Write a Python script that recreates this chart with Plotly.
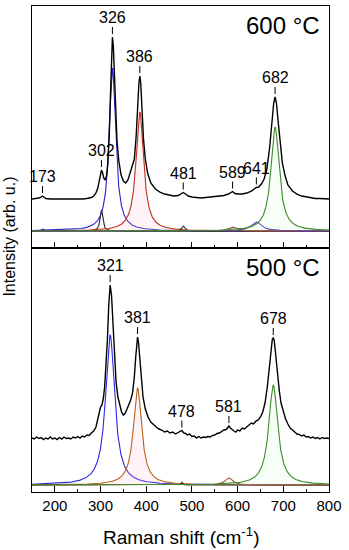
import numpy as np
import plotly.graph_objects as go

# ---------------- data ----------------
# 600 °C measured spectrum (offset above fit baseline, arb. u.)
top_x = [150, 160, 165, 170, 173, 176, 180, 190, 200, 210, 220, 230, 240, 250, 260, 270, 280, 285, 290, 294,
         297, 300, 302, 304, 307, 310, 313, 316, 319, 322, 324, 326, 328, 330, 333, 336, 340, 345, 350, 355,
         360, 364, 368, 371, 374, 378, 381, 384, 386, 388, 391, 394, 398, 403, 410, 420, 430, 440, 450, 460,
         470, 476, 481, 486, 492, 500, 510, 520, 530, 540, 550, 560, 570, 580, 585, 589, 594, 600, 610, 620,
         630, 636, 641, 646, 652, 658, 664, 670, 675, 679, 682, 685, 689, 693, 698, 704, 710, 720, 730, 740,
         750, 760, 770, 780, 790, 800]
top_y = [32, 32.5, 33, 34, 35, 34, 32.5, 32, 32, 31.5, 32, 32, 31.5, 32, 32, 32.5, 33.5, 35, 38, 43,
         50, 58, 61, 59, 53, 51, 55, 68, 95, 140, 175, 194, 185, 155, 118, 90, 70, 56, 50, 48,
         51, 57, 63, 66, 72, 95, 125, 148, 155, 148, 120, 92, 72, 58, 48, 42, 39, 37, 36, 35,
         35.5, 37, 38.5, 37, 35, 34, 33.5, 33, 33.5, 34, 34.5, 35, 35.5, 37, 38, 39.5, 37.5, 37, 37, 38,
         40, 42, 43.5, 44, 47, 52, 62, 83, 108, 128, 134, 128, 108, 88, 68, 55, 46, 40, 37, 35,
         34, 33, 32.5, 32.5, 32, 32]

# 500 °C measured spectrum
bot_x = [150, 155, 160, 165, 170, 175, 180, 185, 190, 195, 200, 205, 210, 215, 220, 225, 230, 235, 240, 245,
         250, 255, 260, 265, 270, 275, 280, 285, 290, 294, 297, 300, 303, 306, 309, 312, 315, 318, 321, 324,
         327, 330, 334, 338, 342, 346, 350, 354, 358, 362, 366, 370, 374, 377, 379, 381, 383, 386, 389, 393,
         398, 404, 410, 416, 422, 428, 434, 440, 446, 452, 458, 464, 470, 474, 478, 482, 486, 490, 495, 500,
         505, 510, 515, 520, 525, 530, 535, 540, 545, 550, 555, 560, 565, 570, 575, 578, 581, 584, 588, 592,
         596, 600, 605, 610, 615, 620, 625, 630, 635, 640, 645, 650, 655, 660, 665, 669, 673, 676, 678, 680,
         683, 687, 691, 695, 700, 705, 710, 715, 720, 725, 730, 735, 740, 745, 750, 755, 760, 765, 770, 775,
         780, 785, 790, 795, 800]
bot_y = [47, 46, 48, 46.5, 47.5, 45.5, 47, 46, 48, 46, 47, 45.5, 47.5, 46, 48, 46.5, 47, 46, 48, 47,
         48.5, 47, 49, 48, 50, 49.5, 52, 54, 58, 66, 75, 78, 80, 86, 98, 118, 145, 180, 200, 190,
         160, 128, 103, 88, 79, 73, 70, 72, 76, 80, 85, 92, 108, 128, 142, 148, 143, 125, 105, 88,
         76, 68, 63, 60, 58, 56, 55, 53, 54, 52, 53, 51, 52.5, 53, 54.5, 52, 51.5, 50, 51, 48.5,
         49, 47, 48.5, 47, 48, 47.5, 48.5, 48, 49.5, 50, 51.5, 52, 53.5, 55, 55.5, 57, 59, 57, 55, 54,
         53, 55, 54, 57, 56, 58, 60, 62, 61, 64, 65, 68, 73, 82, 98, 118, 137, 146, 147, 145,
         132, 112, 95, 82, 73, 66, 61, 57, 55, 53, 51, 50.5, 49, 50, 48, 48.5, 47, 48, 46.5, 47.5,
         46, 47.5, 46.5, 47, 46.5]

# Lorentzian fit components: centre, height, half width
top_fit_center = [173, 302, 326, 386, 481, 589, 641, 682]
top_fit_height = [2, 21, 163, 119, 5, 4, 9, 104]
top_fit_hwhm = [3, 3.5, 8.5, 10, 4, 10, 14, 11]
top_fit_color = ["#222222", "#222222", "#2424c8", "#c0301c", "#333333", "#a0522d", "#5530b8", "#3c8c28"]

bot_fit_center = [321, 381, 478, 581, 678]
bot_fit_height = [150, 97, 3, 7, 100]
bot_fit_hwhm = [12, 11, 2, 10, 12]
bot_fit_color = ["#2828e0", "#b8621e", "#333333", "#a0522d", "#3c8c28"]

top_labels = [173, 302, 326, 386, 481, 589, 641, 682]
bot_labels = [321, 381, 478, 581, 678]

tick_vals = [200, 300, 400, 500, 600, 700, 800]

# ---------------- figure ----------------
FONT = "Liberation Sans, Arial, sans-serif"
fig = go.Figure()
grid = np.linspace(150, 800, 1301)


def add_fits(centers, heights, widths, colors, yaxis):
    for c, h, w, col in zip(centers, heights, widths, colors):
        curve = h / (1 + ((grid - c) / w) ** 2)
        fill = None
        fillcolor = None
        if col in ("#c0301c", "#b8621e"):
            fill = "tozeroy"
            fillcolor = "rgba(255,190,210,0.18)"
        elif col == "#3c8c28":
            fill = "tozeroy"
            fillcolor = "rgba(200,240,200,0.15)"
        fig.add_trace(go.Scatter(x=grid, y=curve, mode="lines", yaxis=yaxis, xaxis="x" if yaxis == "y" else "x2",
                                 line=dict(color=col, width=1.1), fill=fill, fillcolor=fillcolor,
                                 showlegend=False, hoverinfo="skip"))


add_fits(top_fit_center, top_fit_height, top_fit_hwhm, top_fit_color, "y")
add_fits(bot_fit_center, bot_fit_height, bot_fit_hwhm, bot_fit_color, "y2")

fig.add_trace(go.Scatter(x=top_x, y=top_y, mode="lines", xaxis="x", yaxis="y",
                         line=dict(color="black", width=1.4), showlegend=False))
fig.add_trace(go.Scatter(x=bot_x, y=bot_y, mode="lines", xaxis="x2", yaxis="y2",
                         line=dict(color="black", width=1.4), showlegend=False))

annotations = []
shapes = []


def add_labels(labels, xs, ys, xref, yref):
    xs = np.array(xs, float)
    ys = np.array(ys, float)
    for lab in labels:
        m = (xs >= lab - 4) & (xs <= lab + 4)
        v = ys[m].max()
        shapes.append(dict(type="line", xref=xref, yref=yref, x0=lab, x1=lab, y0=v + 3, y1=v + 10,
                           line=dict(color="black", width=1)))
        annotations.append(dict(x=lab, y=v + 19.5, xref=xref, yref=yref, text=str(lab), showarrow=False,
                                xanchor="center", yanchor="middle", font=dict(family=FONT, size=16, color="black")))


add_labels(top_labels, top_x, top_y, "x", "y")
add_labels(bot_labels, bot_x, bot_y, "x2", "y2")

annotations.append(dict(x=0.975, y=0.959, xref="paper", yref="paper", text="600 °C", showarrow=False,
                        xanchor="right", yanchor="middle", font=dict(family=FONT, size=24, color="black")))
annotations.append(dict(x=0.975, y=0.462, xref="paper", yref="paper", text="500 °C", showarrow=False,
                        xanchor="right", yanchor="middle", font=dict(family=FONT, size=24, color="black")))
annotations.append(dict(x=-0.075, y=0.525, xref="paper", yref="paper", text="Intensity (arb. u.)",
                        showarrow=False, textangle=-90, xanchor="center", yanchor="middle",
                        font=dict(family=FONT, size=16, color="black")))
annotations.append(dict(x=0.5, y=-0.09, xref="paper", yref="paper",
                        text="Raman shift (cm<sup>-1</sup>)", showarrow=False, xanchor="center", yanchor="middle",
                        font=dict(family=FONT, size=19, color="black")))

xcommon = dict(range=[150, 800], showline=True, linecolor="black", linewidth=1, mirror=True,
               ticks="inside", ticklen=6, tickcolor="black", tickwidth=1, tickvals=tick_vals,
               minor=dict(ticks="inside", ticklen=3, dtick=50, tick0=150, tickcolor="black"),
               showgrid=False, zeroline=False)
ycommon = dict(showline=True, linecolor="black", linewidth=1, mirror=True, ticks="", showticklabels=False,
               showgrid=False, zeroline=False)

fig.update_layout(
    width=349, height=550,
    margin=dict(l=32, r=20, t=6, b=58),
    paper_bgcolor="white", plot_bgcolor="white",
    font=dict(family=FONT, size=15, color="black"),
    xaxis=dict(**xcommon, anchor="y", showticklabels=False),
    yaxis=dict(**ycommon, domain=[0.502, 1], range=[-17, 225], anchor="x"),
    xaxis2=dict(**xcommon, anchor="y2", showticklabels=True, tickfont=dict(family=FONT, size=15, color="black")),
    yaxis2=dict(**ycommon, domain=[0, 0.502], range=[-7, 237], anchor="x2"),
    annotations=annotations, shapes=shapes,
    showlegend=False,
)

fig.write_html("out.html", config={"displayModeBar": False},
               post_script="document.body.style.margin='0px';document.body.style.overflow='hidden';")
